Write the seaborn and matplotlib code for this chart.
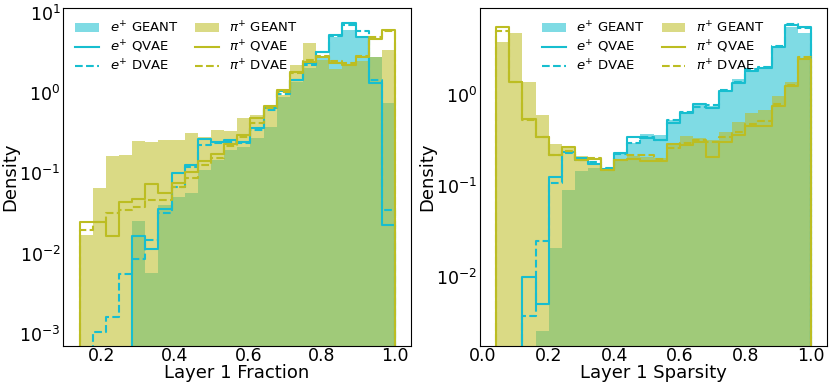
import numpy as np
import pandas as pd
import matplotlib
matplotlib.use("Agg")
import matplotlib.pyplot as plt
import seaborn as sns

# bin range: 24 equal-width bins per panel
frac_lo, frac_hi = 0.14, 1.0
spars_lo, spars_hi = 0.04, 1.0
n_bins = 24

# Layer 1 Fraction, density per bin
frac_e_geant = [0, 0, 0, 0, 0.0256, 0.00577, 0.0405, 0.0513, 0.0575, 0.110, 0.147, 0.195,
                0.215, 0.273, 0.381, 0.90, 1.37, 2.03, 2.75, 5.00, 6.08, 4.79, 2.83, 0.745]
frac_e_qvae = [0, 0, 0, 0, 0.0168, 0.0114, 0.0357, 0.100, 0.127, 0.265, 0.248, 0.260,
               0.248, 0.364, 0.646, 1.07, 1.45, 2.34, 3.27, 5.25, 7.36, 5.00, 1.32, 0.0224]
frac_e_dvae = [0, 0.00107, 0.00165, 0.00556, 0.00861, 0.0146, 0.0319, 0.0684, 0.121, 0.225, 0.241, 0.248,
               0.241, 0.347, 0.615, 0.973, 1.45, 2.20, 3.20, 5.10, 7.00, 5.90, 1.43, 0.0351]
frac_pi_geant = [0.0171, 0.0653, 0.164, 0.169, 0.255, 0.248, 0.260, 0.260, 0.321, 0.286, 0.347, 0.336,
                 0.484, 0.532, 0.710, 0.944, 2.23, 4.15, 2.60, 2.00, 2.23, 2.46, 2.83, 3.43]
frac_pi_qvae = [0.0251, 0.0251, 0.0168, 0.0445, 0.0476, 0.0731, 0.0565, 0.0753, 0.104, 0.144, 0.174, 0.232,
                0.301, 0.484, 0.689, 1.09, 1.83, 2.43, 2.80, 2.34, 2.23, 2.80, 4.70, 6.08]
frac_pi_dvae = [0.0198, 0.0251, 0.0319, 0.0351, 0.0379, 0.0467, 0.0467, 0.0684, 0.0885, 0.125, 0.154, 0.221,
                0.286, 0.420, 0.657, 1.04, 1.75, 2.57, 2.90, 2.46, 2.34, 2.90, 5.00, 5.95]

# Layer 1 Sparsity, density per bin
spars_e_geant = [0, 0, 0, 0.00254, 0.0204, 0.0893, 0.145, 0.155, 0.148, 0.226, 0.291, 0.365,
                 0.359, 0.525, 0.642, 0.767, 0.748, 1.09, 1.48, 1.83, 1.99, 3.35, 5.47, 4.78]
spars_e_qvae = [0, 0, 0.00995, 0.00499, 0.124, 0.235, 0.199, 0.172, 0.151, 0.229, 0.344, 0.330,
                0.316, 0.490, 0.621, 0.787, 0.705, 1.10, 1.33, 1.83, 1.94, 3.35, 5.80, 5.56]
spars_e_dvae = [0, 0, 0.00373, 0.0249, 0.106, 0.226, 0.191, 0.183, 0.155, 0.222, 0.291, 0.344,
                0.316, 0.525, 0.647, 0.734, 0.767, 1.12, 1.38, 1.89, 2.02, 3.41, 5.95, 5.34]
spars_pi_geant = [3.80, 4.71, 1.38, 0.595, 0.286, 0.265, 0.211, 0.168, 0.152, 0.191, 0.211, 0.206,
                  0.200, 0.293, 0.350, 0.333, 0.316, 0.390, 0.502, 0.626, 0.676, 0.963, 1.37, 2.45]
spars_pi_qvae = [5.56, 1.38, 0.534, 0.344, 0.214, 0.265, 0.191, 0.198, 0.148, 0.191, 0.194, 0.188,
                 0.188, 0.284, 0.279, 0.301, 0.207, 0.301, 0.359, 0.451, 0.451, 0.748, 1.24, 2.44]
spars_pi_dvae = [5.02, 1.38, 0.525, 0.339, 0.216, 0.241, 0.191, 0.199, 0.148, 0.191, 0.216, 0.216,
                 0.194, 0.256, 0.291, 0.316, 0.303, 0.344, 0.384, 0.474, 0.515, 0.787, 1.27, 2.60]

CYAN = "#17becf"
OLIVE = "#bcbd22"


def draw_panel(ax, lo, hi, e_geant, e_qvae, e_dvae, pi_geant, pi_qvae, pi_dvae):
    """Filled GEANT histograms plus step outlines for the two models."""
    # one empty bin on each side so the step outlines drop to zero at the ends
    w = (hi - lo) / n_bins
    edges = np.linspace(lo - w, hi + w, n_bins + 3)
    pad = lambda v: [0] + list(v) + [0]
    df = pd.DataFrame({
        "x": (edges[:-1] + edges[1:]) / 2,
        "e_geant": pad(e_geant), "e_qvae": pad(e_qvae), "e_dvae": pad(e_dvae),
        "pi_geant": pad(pi_geant), "pi_qvae": pad(pi_qvae), "pi_dvae": pad(pi_dvae),
    })
    hist_kw = dict(data=df, x="x", bins=n_bins + 2, binrange=(lo - w, hi + w),
                   element="step", ax=ax)

    fills = [("e_geant", CYAN, r"$e^{+}$ GEANT"), ("pi_geant", OLIVE, r"$\pi^{+}$ GEANT")]
    for col_name, col, lab in fills:
        sns.histplot(weights=col_name, fill=True, color=col, alpha=0.55,
                     linewidth=0, label=lab, **hist_kw)
    lines = [("e_qvae", CYAN, "-", r"$e^{+}$ QVAE"), ("e_dvae", CYAN, "--", r"$e^{+}$ DVAE"),
             ("pi_qvae", OLIVE, "-", r"$\pi^{+}$ QVAE"), ("pi_dvae", OLIVE, "--", r"$\pi^{+}$ DVAE")]
    for col_name, col, ls, lab in lines:
        sns.histplot(weights=col_name, fill=False, color=col, linestyle=ls,
                     linewidth=1.5, label=lab, **hist_kw)
    ax.set_yscale("log")
    ax.set_ylabel("Density", fontsize=13, labelpad=0)
    ax.tick_params(axis="both", which="both", length=0, labelsize=12.5, pad=2)
    ax.tick_params(axis="x", pad=1)
    ax.minorticks_off()

    # legend: e+ column then pi+ column
    h, l = ax.get_legend_handles_labels()
    order = [r"$e^{+}$ GEANT", r"$e^{+}$ QVAE", r"$e^{+}$ DVAE",
             r"$\pi^{+}$ GEANT", r"$\pi^{+}$ QVAE", r"$\pi^{+}$ DVAE"]
    hd = dict(zip(l, h))
    return [hd[k] for k in order], order


fig = plt.figure(figsize=(8.3, 3.85), dpi=100)
ax1 = fig.add_axes([0.0763, 0.1021, 0.4186, 0.8764])
ax2 = fig.add_axes([0.5783, 0.1021, 0.4177, 0.8764])

leg_kw = dict(ncol=2, frameon=False, fontsize=9.5, labelspacing=0.25,
              columnspacing=1.25, handlelength=1.8)

h, l = draw_panel(ax1, frac_lo, frac_hi, frac_e_geant, frac_e_qvae, frac_e_dvae,
                  frac_pi_geant, frac_pi_qvae, frac_pi_dvae)
ax1.legend(h, l, loc="upper left", **leg_kw)
ax1.set_xlabel("Layer 1 Fraction", fontsize=13, labelpad=-1)
ax1.set_xlim(0.0955, 1.043)
ax1.set_ylim(7.15e-4, 11.3)

h, l = draw_panel(ax2, spars_lo, spars_hi, spars_e_geant, spars_e_qvae, spars_e_dvae,
                  spars_pi_geant, spars_pi_qvae, spars_pi_dvae)
ax2.legend(h, l, loc="upper center", **leg_kw)
ax2.set_xlabel("Layer 1 Sparsity", fontsize=13, labelpad=-1)
ax2.set_xlim(-0.0094, 1.048)
ax2.set_ylim(1.74e-3, 8.86)

fig.savefig("out.png", dpi=100)
